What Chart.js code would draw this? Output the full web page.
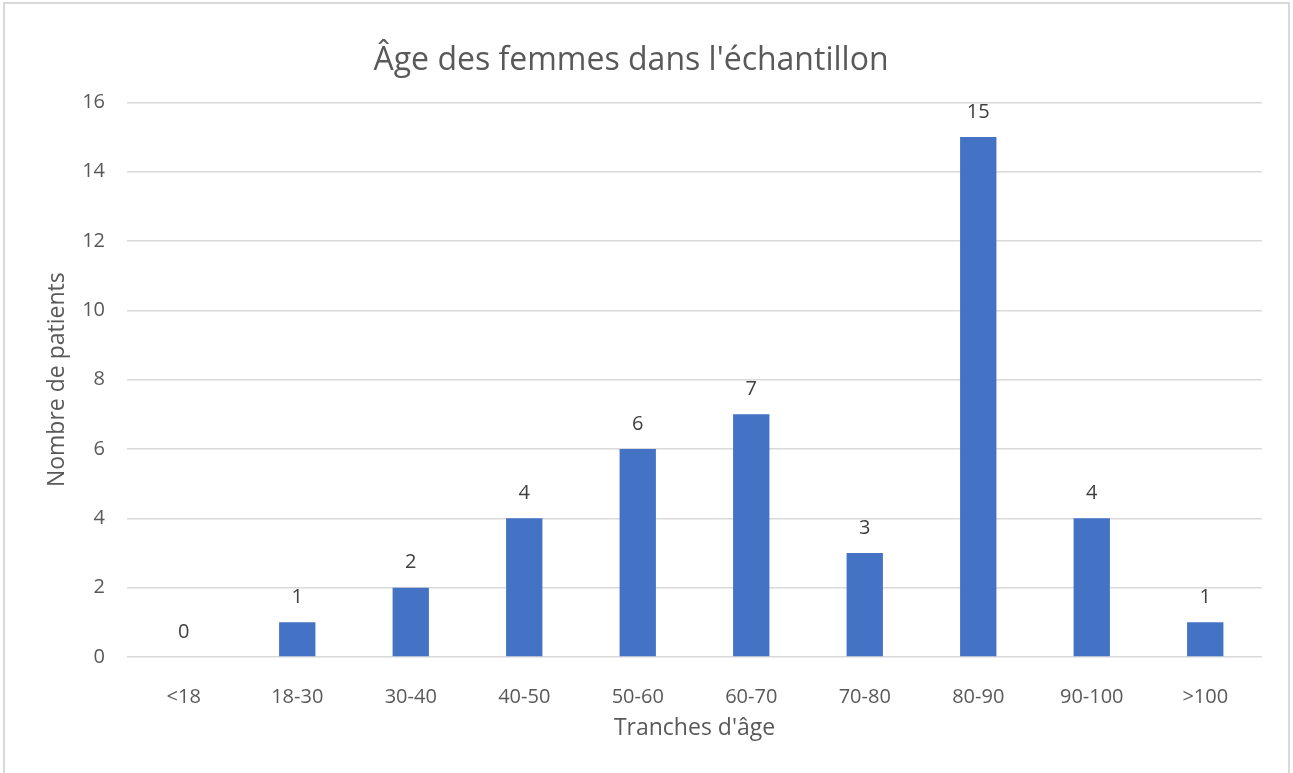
<!DOCTYPE html>
<html>
<head>
<meta charset="utf-8">
<script src="https://cdn.jsdelivr.net/npm/chart.js@4/dist/chart.umd.min.js"></script>
<style>
  body { margin: 0; background: #fff; }
  #frame { position: absolute; left: 3px; top: 2px; width: 1287px; height: 790px; border: 2px solid #d9d9d9; box-sizing: border-box; }
  #wrap { position: absolute; left: 0; top: 0; width: 1293px; height: 773px; }
</style>
</head>
<body>
<div id="frame"></div>
<div id="wrap"><canvas id="ageChart" width="1293" height="773"></canvas></div>
<script>
const ageGroups = ["<18", "18-30", "30-40", "40-50", "50-60", "60-70", "70-80", "80-90", "90-100", ">100"];
const patientCounts = [0, 1, 2, 4, 6, 7, 3, 15, 4, 1];
const yTicks = [0, 2, 4, 6, 8, 10, 12, 14, 16];

const textGrey = "#595959";
const fontName = "'Open Sans', sans-serif";

// draws the value above each bar, like Excel data labels
const valueLabels = {
  id: "valueLabels",
  afterDatasetsDraw(chart) {
    const ctx = chart.ctx;
    const meta = chart.getDatasetMeta(0);
    ctx.save();
    ctx.fillStyle = "#404040";
    ctx.font = "20px " + fontName;
    ctx.textAlign = "center";
    ctx.textBaseline = "middle";
    meta.data.forEach(function (bar, i) {
      ctx.fillText(String(patientCounts[i]), bar.x, bar.y - 25);
    });
    ctx.restore();
  },
};

const data = {
  labels: ageGroups,
  datasets: [
    {
      data: patientCounts,
      backgroundColor: "#4472C4",
      borderWidth: 0,
      barPercentage: 0.32,
      categoryPercentage: 1,
    },
  ],
};

const config = {
  type: "bar",
  data: data,
  plugins: [valueLabels],
  options: {
    responsive: false,
    animation: false,
    layout: { padding: { left: 0, right: 31, top: 0, bottom: 0 } },
    plugins: {
      legend: { display: false },
      tooltip: { enabled: false },
      title: {
        display: true,
        text: "Âge des femmes dans l'échantillon",
        color: textGrey,
        font: { family: fontName, size: 32, weight: "normal" },
        padding: { top: 42, bottom: 22 },
      },
    },
    scales: {
      x: {
        grid: { display: false },
        border: { display: false },
        ticks: { color: textGrey, font: { family: fontName, size: 20 }, padding: 20 },
        title: {
          display: true,
          text: "Tranches d'âge",
          color: textGrey,
          font: { family: fontName, size: 23 },
          padding: { top: 0, bottom: 31 },
        },
        afterFit: function (scale) { scale.height = 116; },
      },
      y: {
        min: 0,
        max: 16,
        afterBuildTicks: function (scale) {
          scale.ticks = yTicks.map(function (v) { return { value: v }; });
        },
        grid: { color: "#d9d9d9", lineWidth: 1.5, drawTicks: false },
        border: { display: false },
        ticks: { color: textGrey, font: { family: fontName, size: 20 }, padding: 22 },
        title: {
          display: true,
          text: "Nombre de patients",
          color: textGrey,
          font: { family: fontName, size: 23 },
          padding: { top: 44, bottom: 0 },
        },
        afterFit: function (scale) { scale.width = 127; },
      },
    },
  },
};

const ageChart = new Chart(document.getElementById("ageChart"), config);
</script>
</body>
</html>
